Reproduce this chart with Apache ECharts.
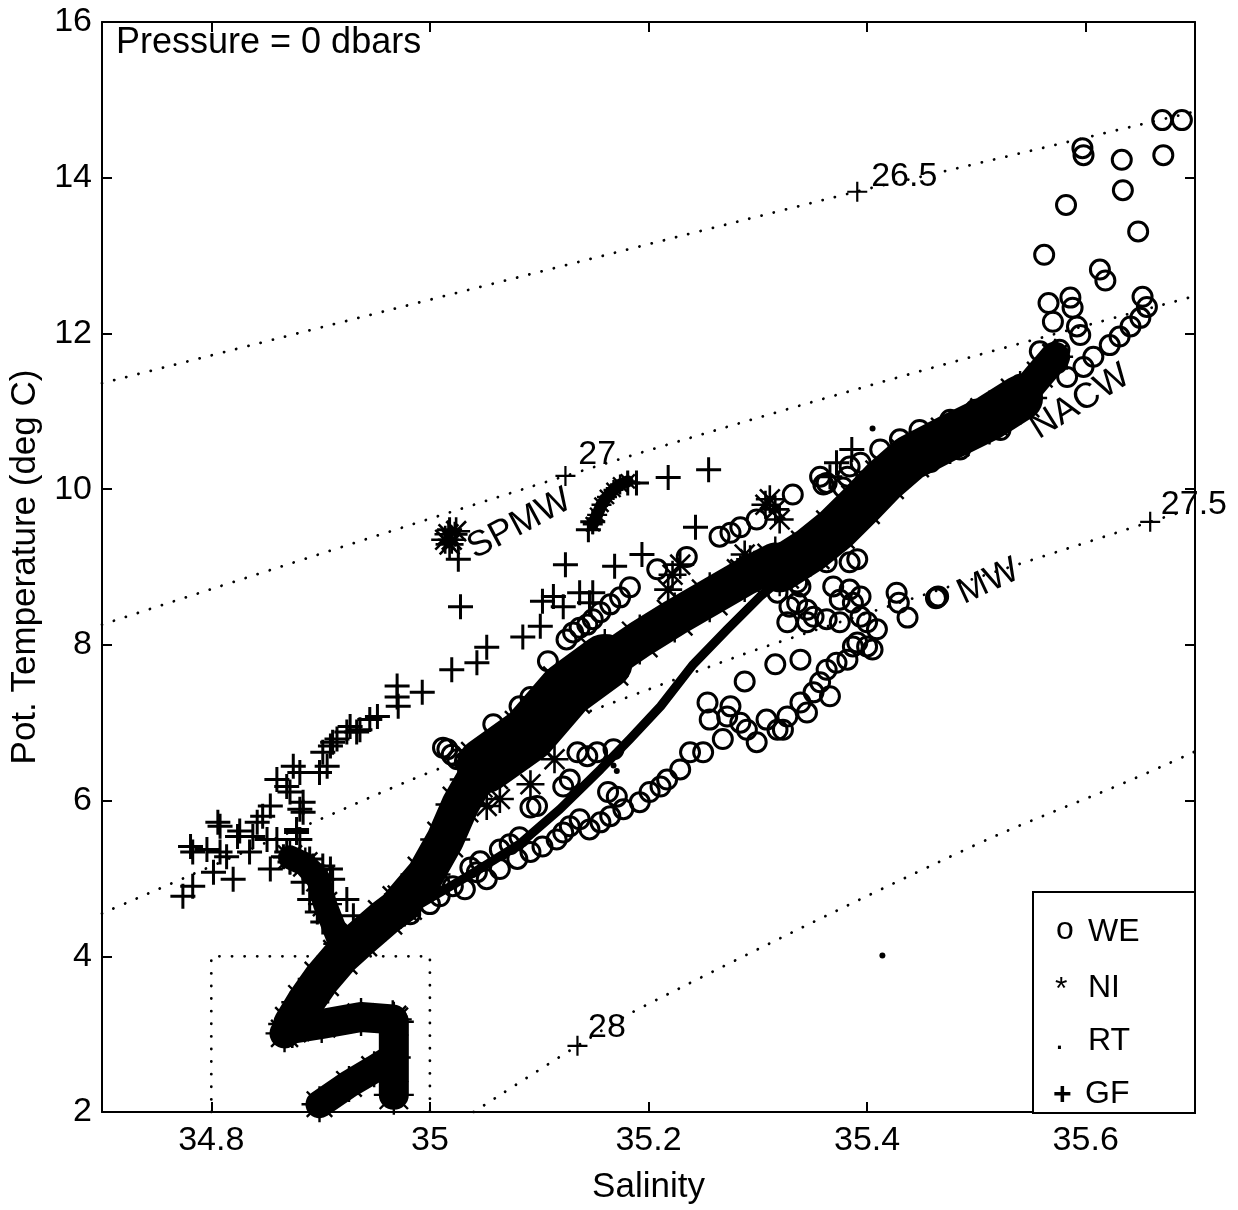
<!DOCTYPE html>
<html><head><meta charset="utf-8">
<script src="https://cdn.jsdelivr.net/npm/echarts@6/dist/echarts.min.js"></script>
<style>html,body{margin:0;padding:0;background:#fff}#c{width:1238px;height:1210px}</style>
</head><body><div id="c"></div>
<script>
// ---- axes ----
const xTicks = [34.8, 35.0, 35.2, 35.4, 35.6];
const yTicks = [2, 4, 6, 8, 10, 12, 14, 16];

// ---- isopycnals (sigma-theta) ----
const sig265 = [[34.70,11.36],[35.39,13.82],[35.47,14.08],[35.70,14.85]];
const sig27  = [[34.70,8.26],[35.124,10.17],[35.412,11.37],[35.70,12.48]];
const sig275 = [[34.70,4.55],[34.898,5.75],[35.003,6.38],[35.256,7.72],[35.316,8.02],[35.659,9.58],[35.70,9.76]];
const sig28  = [[35.04,2.0],[35.135,2.85],[35.196,3.36],[35.496,5.41],[35.639,6.25],[35.70,6.63]];
const boxLine = [[34.8,2],[34.8,4],[35.0,4],[35.0,2]];
const contourMarks = [[35.391,13.82],[35.124,10.17],[35.659,9.58],[35.135,2.85]];
const contourLabels = [['26.5',35.434,14.01],['27',35.153,10.44],['27.5',35.699,9.80],['28',35.162,3.09]];
const waterMasses = [['SPMW',35.082,9.55,28],['NACW',35.595,11.12,32],['MW',35.511,8.81,25]];

// ---- WE (open circles) ----
const weData = [
[35.670,14.74],[35.688,14.74],[35.597,14.38],[35.598,14.29],[35.633,14.23],[35.671,14.29],[35.634,13.84],[35.582,13.65],[35.648,13.31],[35.562,13.01],[35.613,12.82],[35.618,12.68],[35.566,12.39],[35.586,12.46],[35.588,12.33],[35.570,12.15],[35.592,12.09],[35.595,11.98],[35.652,12.47],[35.656,12.34],[35.650,12.20],[35.641,12.09],[35.631,11.96],[35.622,11.85],[35.607,11.70],[35.598,11.57],[35.583,11.44],[35.558,11.77],[35.576,11.79],[35.574,11.62],[35.522,11.15],
[35.499,11.02],[35.531,11.21],[35.540,11.34],[35.476,10.89],[35.448,10.76],[35.430,10.64],[35.412,10.51],[35.522,10.76],[35.485,10.51],[35.458,10.35],[35.430,10.12],
[35.357,10.16],[35.363,10.08],[35.332,9.93],[35.360,10.06],[35.378,10.02],[35.382,10.16],[35.384,10.29],[35.394,10.34],[35.394,9.83],[35.387,9.78],
[35.125,8.07],[35.131,8.16],[35.137,8.22],[35.144,8.26],[35.149,8.33],[35.156,8.42],[35.165,8.52],[35.174,8.61],[35.183,8.74],[35.208,8.97],[35.235,9.13],[35.265,9.39],[35.275,9.44],[35.284,9.51],[35.299,9.61],
[35.108,7.79],[35.114,7.56],[35.092,7.33],[35.082,7.21],[35.058,6.98],[35.016,6.66],[35.025,6.53],[35.032,6.50],[35.012,6.68],[35.020,6.59],
[35.135,6.62],[35.144,6.57],[35.153,6.62],[35.168,6.66],[35.128,6.27],[35.122,6.18],[35.098,5.93],[35.092,5.91],[35.163,6.11],[35.171,6.05],
[35.021,4.90],[35.043,5.08],[35.052,4.99],[35.064,5.12],[35.080,5.25],[35.092,5.34],[35.103,5.41],[35.116,5.50],[35.122,5.59],[35.128,5.67],[35.137,5.76],[35.146,5.63],[35.156,5.72],[35.165,5.80],[35.177,5.89],[35.192,5.98],[35.201,6.11],[35.211,6.18],[35.217,6.27],
[35.000,4.67],[35.009,4.77],[35.032,4.86],[34.982,4.54],[35.009,4.93],[35.037,5.14],[35.064,5.37],[35.082,5.53],[35.046,5.22],[35.073,5.44],
[35.254,7.26],[35.256,7.04],[35.272,7.08],[35.275,7.21],[35.284,7.00],[35.268,6.79],[35.250,6.62],[35.238,6.62],[35.290,6.91],[35.299,6.75],[35.308,7.04],[35.318,6.91],[35.327,7.08],[35.323,6.91],[35.339,7.26],[35.345,7.13],[35.351,7.39],[35.357,7.52],[35.366,7.34],[35.363,7.68],[35.372,7.77],[35.382,7.81],[35.387,7.98],[35.391,8.03],[35.400,7.98],[35.405,7.94],[35.409,8.20],[35.400,8.29],[35.394,8.36],[35.387,8.54],[35.394,8.62],[35.384,8.71],[35.384,9.06],[35.391,9.10],[35.375,8.29],[35.363,8.33],[35.351,8.36],[35.345,8.45],[35.336,8.54],[35.329,8.49],[35.327,8.29],[35.339,8.75],[35.336,8.80],[35.318,8.67],[35.345,8.29],[35.329,9.22],[35.336,9.20],[35.357,9.35],[35.363,9.06],[35.369,8.75],[35.375,8.58],[35.345,9.35],
[35.288,7.53],[35.316,7.75],[35.339,7.81],[35.229,6.40],
[35.427,8.67],[35.429,8.54],[35.437,8.35],
[35.464,8.61],[35.465,8.62],[35.463,8.60]
];

// ---- NI (asterisks): dense tracks and isolated marks ----
const niLowerArm = [[34.899,2.10],[34.926,2.36],[34.949,2.55],[34.966,2.70]];
const niBlock    = [[34.967,2.22],[34.967,3.16]];
const niUpperArm = [[34.966,3.19],[34.937,3.22],[34.901,3.13],[34.874,3.07],[34.867,3.01]];
const niNeck     = [[34.874,3.13],[34.886,3.41],[34.901,3.71],[34.918,3.99],[34.936,4.22],[34.959,4.50],[34.977,4.69]];
const niLeft     = [[34.918,4.16],[34.904,4.67],[34.898,4.99],[34.886,5.18],[34.872,5.27]];
const niMain     = [[34.973,4.67],[34.996,5.05],[35.014,5.50],[35.028,5.95],[35.041,6.27],[35.064,6.59],[35.092,6.94],[35.114,7.24],[35.137,7.56],[35.165,7.81],[35.192,8.07],[35.224,8.35],[35.256,8.61],[35.288,8.87],[35.316,9.07]];
const niWide     = [[35.050,6.45],[35.090,6.85],[35.125,7.42],[35.160,7.78]];
const niTrunk    = [[35.320,8.97],[35.348,9.22],[35.371,9.48],[35.394,9.80],[35.416,10.12],[35.439,10.40],[35.476,10.67],[35.512,10.92],[35.540,11.17]];
const niTrunkTop = [[35.540,11.17],[35.558,11.47],[35.572,11.70]];
const niStreak   = [[35.149,9.55],[35.153,9.67],[35.157,9.80],[35.162,9.90],[35.168,9.99],[35.174,10.06],[35.181,10.10]];
const niPts = [
[35.229,9.03],[35.222,8.90],[35.218,8.71],
[35.288,9.16],[35.297,9.03],[35.284,8.97],[35.293,9.10],
[35.316,9.74],[35.311,9.87],[35.320,9.61],[35.307,9.80],
[35.064,6.02],[35.092,6.21],[35.114,6.53],[35.052,5.93],
[35.017,9.42],[35.020,9.35],[35.024,9.46],[35.014,9.35],[35.018,9.29]
];

// ---- RT (dots) ----
const rtLine = [[34.991,4.67],[35.037,5.05],[35.082,5.44],[35.119,5.89],[35.156,6.40],[35.183,6.79],[35.211,7.21],[35.241,7.75],[35.272,8.20],[35.302,8.62],[35.332,8.97],[35.363,9.26],[35.384,9.42]];
const rtPts = [[35.405,10.78],[35.414,4.01],[35.168,6.45],[35.171,6.38]];

// ---- GF (plus signs) ----
const gfData = [
[35.020,7.68],[34.970,7.47],[34.970,7.33],[34.971,7.21],[34.993,7.39],[34.952,7.08],[34.945,7.04],[34.927,6.95],[34.936,6.91],[34.924,6.88],[34.915,6.79],[34.909,6.70],[34.902,6.62],[34.906,6.44],[34.899,6.36],[34.875,6.44],[34.881,6.36],[34.860,6.27],[34.869,6.18],[34.872,6.11],[34.884,5.98],[34.884,5.85],[34.854,5.93],[34.847,5.80],[34.842,5.72],[34.806,5.72],[34.826,5.61],[34.824,5.54],[34.838,5.54],[34.851,5.50],[34.860,5.50],[34.878,5.63],[34.881,5.50],[34.835,5.34],[34.781,5.41],[34.783,5.34],[34.796,5.37],[34.808,5.34],[34.814,5.28],[34.866,5.28],[34.872,5.21],[34.890,5.25],[34.902,5.16],[34.909,5.12],[34.854,5.12],[34.802,5.08],[34.820,4.99],[34.783,4.90],[34.774,4.77],[34.884,4.95],[34.890,4.73],[34.897,4.57],[34.902,4.44],[34.808,5.67],[34.881,5.89],[34.878,5.59],[34.869,5.34],[34.893,5.16],[34.911,4.99],[34.924,4.73],[34.930,4.52],
[34.911,6.75],[34.933,6.88],[35.043,7.77],[35.052,7.97],[35.085,8.10],[35.101,8.24],[35.028,8.49],[35.103,8.56],[35.113,8.62],[35.122,8.49],[35.137,8.67],[35.149,8.67],[35.146,8.54],[35.026,9.10],[35.124,9.03],[35.169,9.01],[35.194,9.16],[35.218,10.15],[35.189,10.08],[35.181,10.08],[35.145,9.48],[35.149,9.58],[35.255,10.25],[35.243,9.51],[35.372,10.34],[35.386,10.51],[35.366,10.16],[35.023,9.42],[35.018,9.48]
];

const FONT = '"Liberation Sans", Arial, Helvetica, sans-serif';
const AST = 'path://M10,0L10,20M0,10L20,10M2.93,2.93L17.07,17.07M2.93,17.07L17.07,2.93';
const PLUS = 'path://M10,0L10,20M0,10L20,10';

function dotted(data, smooth) {
  return {type:'line', data, symbol:'none', smooth: smooth ? 0.35 : false, silent:true, z:1,
    lineStyle:{color:'#000', width:2.8, type:[0.1, 12.5], cap:'round', opacity:1}};
}
function band(data, w, s) {
  return {type:'line', data, symbol:AST, symbolSize:s, showSymbol:true, showAllSymbol:true, silent:true, z:3,
    lineStyle:{color:'#000', width:w, cap:'round', join:'round', opacity:1},
    itemStyle:{color:'#000', borderColor:'#000', borderWidth:2.4, opacity:1}};
}
const axisCommon = {
  type:'value', splitLine:{show:false},
  axisLine:{show:true, onZero:false, lineStyle:{color:'#000', width:2}},
  axisTick:{show:true, inside:true, length:10, lineStyle:{color:'#000', width:2}}
};
const fmt = v => String(+(+v).toFixed(1));

const chart = echarts.init(document.getElementById('c'), null, {renderer:'canvas'});
chart.setOption({
  animation:false,
  backgroundColor:'#fff',
  grid:{left:102, right:43, top:22, bottom:97, containLabel:false},
  xAxis:[
    Object.assign({}, axisCommon, {position:'bottom', min:34.7, max:35.7,
      axisTick:Object.assign({}, axisCommon.axisTick, {customValues:xTicks}),
      axisLabel:{customValues:xTicks, formatter:fmt, color:'#000', fontSize:34, fontFamily:FONT, margin:12},
      name:'Salinity', nameLocation:'middle', nameGap:58,
      nameTextStyle:{color:'#000', fontSize:35, fontFamily:FONT}}),
    Object.assign({}, axisCommon, {position:'top', min:34.7, max:35.7,
      axisTick:Object.assign({}, axisCommon.axisTick, {customValues:xTicks}),
      axisLabel:{show:false}})
  ],
  yAxis:[
    Object.assign({}, axisCommon, {position:'left', min:2, max:16, interval:2,
      axisLabel:{color:'#000', fontSize:34, fontFamily:FONT, margin:10},
      name:'Pot. Temperature (deg C)', nameLocation:'middle', nameGap:52, nameRotate:90,
      nameTextStyle:{color:'#000', fontSize:35, fontFamily:FONT}}),
    Object.assign({}, axisCommon, {position:'right', min:2, max:16, interval:2, axisLabel:{show:false}})
  ],
  series:[
    dotted(sig265, true), dotted(sig27, true), dotted(sig275, true), dotted(sig28, true), dotted(boxLine, false),
    {type:'scatter', data:contourMarks, symbol:PLUS, symbolSize:20, silent:true, z:2,
      itemStyle:{color:'#000', borderColor:'#000', borderWidth:2.2, opacity:1}},
    band(niLowerArm, 28, 36), band(niBlock, 30, 40), band(niUpperArm, 30, 38), band(niNeck, 38, 48),
    band(niLeft, 24, 34), band(niMain, 38, 50), band(niWide, 56, 66), band(niTrunk, 46, 54), band(niTrunkTop, 30, 36), band(niStreak, 12, 20),
    {type:'scatter', name:'NI', data:niPts, symbol:AST, symbolSize:28, silent:true, z:3,
      itemStyle:{color:'#000', borderColor:'#000', borderWidth:2.6, opacity:1}},
    {type:'line', name:'RT', data:rtLine, symbol:'none', silent:true, z:3,
      lineStyle:{color:'#000', width:9, cap:'round', join:'round', opacity:1}},
    {type:'scatter', data:rtPts, symbol:'circle', symbolSize:6, silent:true, z:3, itemStyle:{color:'#000', opacity:1}},
    {type:'scatter', name:'GF', data:gfData, symbol:PLUS, symbolSize:25, silent:true, z:4,
      itemStyle:{color:'#000', borderColor:'#000', borderWidth:3, opacity:1}},
    {type:'scatter', name:'WE', data:weData, symbol:'circle', symbolSize:19, silent:true, z:5,
      itemStyle:{color:'rgba(0,0,0,0)', borderColor:'#000', borderWidth:3, opacity:1}},
    {type:'scatter', silent:true, z:6, symbolSize:1, itemStyle:{color:'rgba(0,0,0,0)', opacity:1},
      data: contourLabels.map(d => ({value:[d[1], d[2]], name:d[0]})),
      label:{show:true, position:'inside', formatter:p => p.name, color:'#000', opacity:1, fontSize:34, fontFamily:FONT}},
    {type:'scatter', silent:true, z:6, symbolSize:1, itemStyle:{color:'rgba(0,0,0,0)', opacity:1},
      data: waterMasses.map(d => ({value:[d[1], d[2]], name:d[0], label:{rotate:d[3]}})),
      label:{show:true, position:'inside', formatter:p => p.name, color:'#000', opacity:1, fontSize:36, fontFamily:FONT}}
  ],
  graphic:[
    {type:'text', left:116, top:25, z:20, style:{text:'Pressure = 0 dbars', font:'36px ' + FONT, fill:'#000'}},
    {type:'rect', z:20, shape:{x:1033, y:892, width:162, height:221}, style:{fill:'#fff', stroke:'#000', lineWidth:2}},
    {type:'text', z:21, x:1056, y:930, style:{text:'o', font:'32px ' + FONT, fill:'#000', textVerticalAlign:'middle'}},
    {type:'text', z:21, x:1088, y:932, style:{text:'WE', font:'32px ' + FONT, fill:'#000', textVerticalAlign:'middle'}},
    {type:'text', z:21, x:1055, y:990, style:{text:'*', font:'32px ' + FONT, fill:'#000', textVerticalAlign:'middle'}},
    {type:'text', z:21, x:1088, y:988, style:{text:'NI', font:'32px ' + FONT, fill:'#000', textVerticalAlign:'middle'}},
    {type:'text', z:21, x:1055, y:1040, style:{text:'.', font:'32px ' + FONT, fill:'#000', textVerticalAlign:'middle'}},
    {type:'text', z:21, x:1088, y:1041, style:{text:'RT', font:'32px ' + FONT, fill:'#000', textVerticalAlign:'middle'}},
    {type:'text', z:21, x:1053, y:1095, style:{text:'+', font:'bold 32px ' + FONT, fill:'#000', textVerticalAlign:'middle'}},
    {type:'text', z:21, x:1085, y:1094, style:{text:'GF', font:'32px ' + FONT, fill:'#000', textVerticalAlign:'middle'}}
  ]
});
</script></body></html>
